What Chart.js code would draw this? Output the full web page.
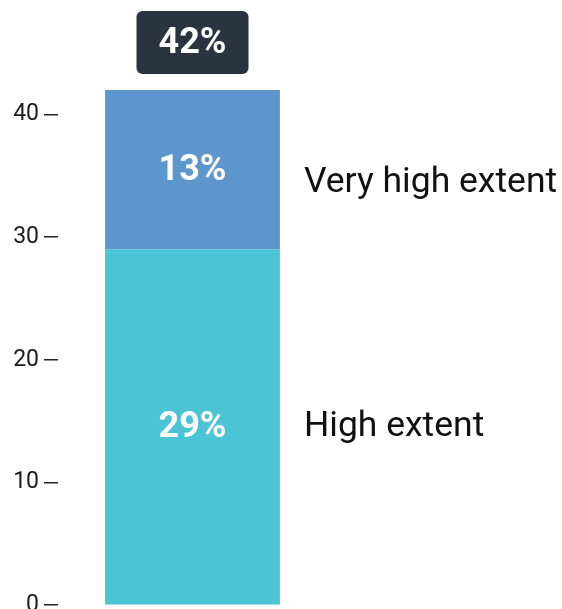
<!DOCTYPE html>
<html>
<head>
<meta charset="utf-8">
<script src="https://cdn.jsdelivr.net/npm/chart.js@4/dist/chart.umd.min.js"></script>
<style>
  html, body { margin: 0; padding: 0; background: #fff; overflow: hidden; }
  #wrap { width: 562px; height: 624px; position: relative; }
</style>
</head>
<body>
<div id="wrap"><canvas id="chart"></canvas></div>
<script>
const categories   = ['Total'];
const seriesNames  = ['High extent', 'Very high extent'];
const highExtent   = [29];
const veryHigh     = [13];
const seriesColors = ['#4bc4d6', '#5d96cd'];
const yTicks       = { min: 0, max: 42, step: 10 };

const FONT = 'Roboto, "Noto Sans", sans-serif';

const labelPlugin = {
  id: 'stackLabels',
  afterDatasetsDraw(chart) {
    const { ctx } = chart;
    let top = Infinity, cx = 0;
    chart.data.datasets.forEach((ds, i) => {
      const bar = chart.getDatasetMeta(i).data[0];
      if (!bar) return;
      const midY = (bar.y + bar.base) / 2;
      cx = bar.x;
      top = Math.min(top, bar.y);
      ctx.save();
      ctx.fillStyle = '#fff';
      ctx.font = `bold 36px ${FONT}`;
      ctx.textAlign = 'center';
      ctx.textBaseline = 'middle';
      ctx.fillText(ds.data[0] + '%', bar.x, midY + 1);
      ctx.fillStyle = '#111';
      ctx.font = `35.5px ${FONT}`;
      ctx.textAlign = 'left';
      ctx.fillText(ds.label, bar.x + bar.width / 2 + 24, midY + (i === 1 ? 13 : 0));
      ctx.restore();
    });

    // total box above the stack
    const total = highExtent[0] + veryHigh[0];
    const w = 112, h = 63, r = 6;
    const x = cx - w / 2, y = top - 16 - h;
    ctx.save();
    ctx.fillStyle = '#2b3340';
    ctx.beginPath();
    ctx.roundRect(x, y, w, h, r);
    ctx.fill();
    ctx.fillStyle = '#fff';
    ctx.font = `bold 36px ${FONT}`;
    ctx.textAlign = 'center';
    ctx.textBaseline = 'middle';
    ctx.fillText(total + '%', cx, y + h / 2 + 1);
    ctx.restore();
  }
};

new Chart(document.getElementById('chart'), {
  type: 'bar',
  data: {
    labels: categories,
    datasets: [
      { label: seriesNames[0], data: highExtent, backgroundColor: seriesColors[0] },
      { label: seriesNames[1], data: veryHigh,   backgroundColor: seriesColors[1] },
    ],
  },
  options: {
    animation: false,
    responsive: true,
    maintainAspectRatio: false,
    barPercentage: 0.65,
    categoryPercentage: 1,
    layout: { padding: { top: 90, right: 235, bottom: 5, left: 0 } },
    plugins: {
      legend:  { display: false },
      tooltip: { enabled: false },
    },
    scales: {
      x: { stacked: true, display: false },
      y: {
        stacked: true,
        min: yTicks.min,
        max: yTicks.max,
        afterFit: (scale) => { scale.width = 58; },
        ticks: {
          stepSize: yTicks.step,
          includeBounds: false,
          padding: 5,
          color: '#1a1a1a',
          font: { size: 23, family: FONT },
        },
        grid:   { drawOnChartArea: false, drawTicks: true, tickLength: 14, color: '#222', lineWidth: 1.5 },
        border: { display: false },
      },
    },
  },
  plugins: [labelPlugin],
});
</script>
</body>
</html>
